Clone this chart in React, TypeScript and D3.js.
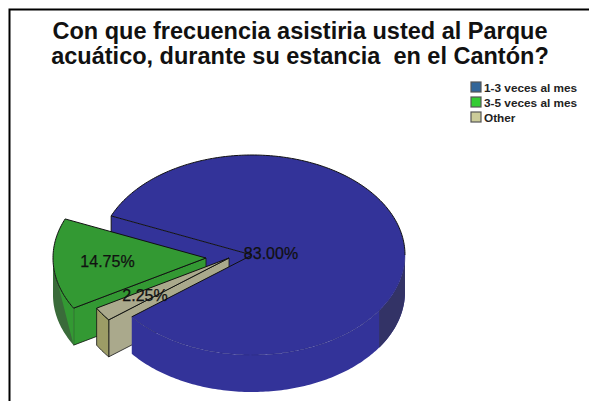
import React from "react";
import * as d3 from "d3";

const titleLines = ["Con que frecuencia asistiria usted al Parque", "acuático, durante su estancia  en el Cantón?"];
const categories = ["1-3 veces al mes", "3-5 veces al mes", "Other"];
const values = [83.0, 14.75, 2.25];
const valueLabels = ["83.00%", "14.75%", "2.25%"];

const topColors = ["#333399", "#339933", "#AAA98C"];
const shadeColors = ["#333366", "#3A6B3A", "#9C9C66"];
const frontColors = ["#333399", "#339933", "#AAA98C"];
const legendColors = ["#336699", "#33CC33", "#CCCC99"];

const W = 589, H = 401;
const cx = 252, cy = 255, rx = 153, ry = 100, depth = 37;
const explode: [number, number][] = [[0, 0], [-46, 3], [-23, 3]];
const labelPos: [number, number][] = [[271, 259], [107.5, 267], [145, 301]];
const deg = Math.PI / 180;
const startA = 231.8 * deg;

const arcs = d3.pie<number>().sort(null).startAngle(startA).endAngle(startA - 2 * Math.PI)(values);

const pt = (i: number, a: number, dz = 0): [number, number] => [
  cx + explode[i][0] + rx * Math.sin(a),
  cy + explode[i][1] - ry * Math.cos(a) + dz,
];
const apex = (i: number, dz = 0): [number, number] => [cx + explode[i][0], cy + explode[i][1] + dz];
const line = d3.line();
const sample = (a0: number, a1: number) => {
  const n = Math.max(2, Math.ceil(Math.abs(a1 - a0) / (1 * deg)));
  return d3.range(n + 1).map((k) => a0 + ((a1 - a0) * k) / n);
};
const arcPts = (i: number, a0: number, a1: number, dz = 0) => sample(a0, a1).map((a) => pt(i, a, dz));
const wall = (i: number, a0: number, a1: number) =>
  line([...arcPts(i, a0, a1), ...arcPts(i, a1, a0, depth)])! + "Z";

export default function App() {
  const [blue, green, tan] = arcs;
  const bStart = blue.startAngle, bEnd = blue.endAngle; // lower-left edge, counter-clockwise to upper-left edge
  const shadeAngle = 123.8 * deg;
  const rightAngle = 90 * deg;
  const gStart = green.startAngle, gEnd = green.endAngle; // upper-left edge -> lower-left edge
  const tStart = tan.startAngle, tEnd = tan.endAngle;
  const gLeft = -90 * deg, gShade = -103.5 * deg;
  const k = "#111";
  return (
    <svg width={W} height={H} style={{ position: "absolute", left: 0, top: 0 }} fontFamily="'Liberation Sans', Arial, sans-serif">
      <rect width={W} height={H} fill="#fff" />
      <path d={`M9.5 ${H}V9.5H${W}`} fill="none" stroke="#000" strokeWidth={2} />
      {titleLines.map((t, i) => (
        <text key={i} x={300} y={39 + i * 24.5} textAnchor="middle" fontSize={23.5} fontWeight="bold" fill="#111" style={{ whiteSpace: "pre" }}>{t}</text>
      ))}
      {/* back wall of the big slice, seen through the gap */}
      <path d={line([pt(0, bEnd), apex(0), apex(0, depth), pt(0, bEnd, depth)])! + "Z"} fill={frontColors[0]} />
      <path d={line([pt(0, bEnd), pt(0, bEnd, depth)])!} stroke={k} fill="none" />

      {/* green slice */}
      <path d={line([apex(1), pt(1, gEnd), pt(1, gEnd, depth), apex(1, depth)])! + "Z"} fill={frontColors[1]} stroke={k} strokeWidth={0.8} />
      <path d={wall(1, gLeft, gEnd)} fill={shadeColors[1]} />
      <path d={line([...arcPts(1, gShade, gEnd), pt(1, gEnd, depth)])! + "Z"} fill={frontColors[1]} />
      <path d={line([apex(1), ...arcPts(1, gStart, gEnd)])! + "Z"} fill={topColors[1]} stroke={k} strokeWidth={1} />

      {/* tan slice */}
      <path d={line([apex(2), pt(2, tEnd), pt(2, tEnd, depth), apex(2, depth)])! + "Z"} fill={frontColors[2]} stroke={k} strokeWidth={0.8} />
      <path d={wall(2, tStart, tEnd)} fill={shadeColors[2]} stroke={k} strokeWidth={0.8} />
      <path d={line([apex(2), ...arcPts(2, tStart, tEnd)])! + "Z"} fill={topColors[2]} stroke={k} strokeWidth={1} />

      {/* big slice */}
      <path d={wall(0, bStart, rightAngle)} fill={frontColors[0]} />
      <path d={wall(0, shadeAngle, rightAngle)} fill={shadeColors[0]} />
      <path d={line([apex(0), ...arcPts(0, bStart, bEnd)])! + "Z"} fill={topColors[0]} />
      <path d={line(arcPts(0, bStart, rightAngle))!} fill="none" stroke="#2A2A70" strokeWidth={0.6} strokeOpacity={0.7} strokeDasharray="14 2" />
      <path d={line(arcPts(0, rightAngle, bEnd))!} fill="none" stroke={k} strokeWidth={1} />
      <path d={line([pt(0, bEnd), apex(0), pt(0, bStart)])!} fill="none" stroke={k} strokeWidth={1} />

      {valueLabels.map((t, i) => (
        <text key={i} x={labelPos[i][0]} y={labelPos[i][1]} textAnchor="middle" fontSize={16} fill="#111" stroke="#111" strokeWidth={0.25}>{t}</text>
      ))}
      {categories.map((c, i) => (
        <g key={c}>
          <rect x={471} y={82 + i * 15} width={10} height={10} fill={legendColors[i]} stroke="#555" strokeWidth={1.2} />
          <text x={484} y={92 + i * 15} fontSize={11.8} fontWeight="bold" fill="#222">{c}</text>
        </g>
      ))}
    </svg>
  );
}
